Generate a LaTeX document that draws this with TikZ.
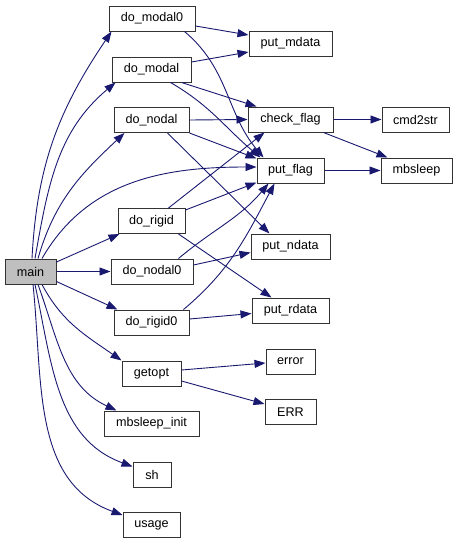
\documentclass[tikz,border=0pt]{standalone}
\usepackage{fontspec}
\setmainfont{Liberation Sans}
\usetikzlibrary{arrows.meta}
\definecolor{edgeblue}{HTML}{191970}
\definecolor{boxline}{HTML}{333333}
\definecolor{mainfill}{HTML}{BFBFBF}
\begin{document}
\begin{tikzpicture}[x=1pt,y=1pt,
  fn/.style={draw=boxline,line width=1pt,fill=white,minimum height=25pt,inner sep=0pt,
    font=\fontsize{12.6}{14}\selectfont,anchor=center},
  edge/.style={draw=edgeblue,line width=0.9pt,-{Triangle[length=11pt,width=8pt]}}]
\useasboundingbox (0,0) rectangle (459,-544);
% column 0
\node[fn,fill=mainfill,minimum width=51pt] (main) at (30.5,-271.5) {main};
% column 1
\node[fn,minimum width=86pt] (dm0) at (152,-18.5) {do\_modal0};
\node[fn,minimum width=79pt] (dm) at (151.5,-69.5) {do\_modal};
\node[fn,minimum width=75pt] (dn) at (151.5,-120) {do\_nodal};
\node[fn,minimum width=67pt] (dr) at (151.5,-221) {do\_rigid};
\node[fn,minimum width=82pt] (dn0) at (152,-271.5) {do\_nodal0};
\node[fn,minimum width=75pt] (dr0) at (151.5,-322.5) {do\_rigid0};
\node[fn,minimum width=59pt] (go) at (151.5,-373.5) {getopt};
\node[fn,minimum width=95pt] (msi) at (151.5,-423.5) {mbsleep\_init};
\node[fn,minimum width=38pt] (sh) at (152,-474.5) {sh};
\node[fn,minimum width=57pt] (us) at (151.5,-525) {usage};
% column 2
\node[fn,minimum width=83pt] (pm) at (290.5,-43.5) {put\_mdata};
\node[fn,minimum width=85pt] (cf) at (290.5,-119.5) {check\_flag};
\node[fn,minimum width=67pt] (pf) at (290.5,-170.5) {put\_flag};
\node[fn,minimum width=79pt] (pn) at (290.5,-246.5) {put\_ndata};
\node[fn,minimum width=77pt] (pr) at (290.5,-310.5) {put\_rdata};
\node[fn,minimum width=49pt] (er) at (290.5,-361.5) {error};
\node[fn,minimum width=51pt] (ERR) at (290.5,-412) {ERR};
% column 3
\node[fn,minimum width=67pt] (c2s) at (415.5,-119.5) {cmd2str};
\node[fn,minimum width=71pt] (ms) at (416.5,-170.5) {mbsleep};
% edges from main
\draw[edge] ([xshift=1.5pt]main.north) to[out=87,in=-124] ([xshift=3pt]dm0.south west);
\draw[edge] ([xshift=4.5pt]main.north) to[out=80,in=-140] ([xshift=4pt]dm.south west);
\draw[edge] ([xshift=7.5pt]main.north) to[out=74,in=-137] ([xshift=11pt]dn.south west);
\draw[edge] ([xshift=11.5pt]main.north) to[out=60,in=180] ([yshift=3.5pt]pf.west);
\draw[edge] ([yshift=9.5pt]main.east) -- ([xshift=2pt]dr.south west);
\draw[edge] (main.east) -- (dn0.west);
\draw[edge] ([yshift=-10pt]main.east) -- ([xshift=4pt]dr0.north west);
\draw[edge] ([xshift=11.5pt]main.south) to[out=-62,in=145] (go.north west);
\draw[edge] ([xshift=7.5pt]main.south) to[out=-70,in=155] ([xshift=13pt]msi.north west);
\draw[edge] ([xshift=4.5pt]main.south) to[out=-78,in=160] ([yshift=8pt]sh.west);
\draw[edge] ([xshift=2.5pt]main.south) to[out=-84,in=160] ([yshift=-3pt]us.north west);
% edges from column 1
\draw[edge] ([yshift=-7.5pt]dm0.east) -- ([yshift=8.5pt]pm.west);
\draw[edge] ([xshift=-11pt]dm0.south east) to[out=-40,in=130] ([xshift=7pt]pf.north west);
\draw[edge] ([yshift=7.5pt]dm.east) -- ([yshift=-8.5pt]pm.west);
\draw[edge] ([xshift=-10pt]dm.south east) -- ([xshift=9pt]cf.north west);
\draw[edge] ([xshift=-21pt]dm.south east) to[out=-30,in=140] ([xshift=4pt]pf.north west);
\draw[edge] (dn.east) -- (cf.west);
\draw[edge] (dn.south east) -- ([yshift=-1pt]pf.north west);
\draw[edge] ([xshift=-22pt]dn.south east) -- ([xshift=19pt]pn.north west);
\draw[edge] ([xshift=-17pt]dr.north east) -- ([xshift=17pt]cf.south west);
\draw[edge] ([yshift=11pt]dr.east) -- ([yshift=1pt]pf.south west);
\draw[edge] ([xshift=-7pt]dr.south east) -- ([xshift=20pt]pr.north west);
\draw[edge] ([xshift=-15pt]dn0.north east) to[out=40,in=-130] ([xshift=12pt]pf.south west);
\draw[edge] ([yshift=6.5pt]dn0.east) -- ([yshift=-6pt]pn.west);
\draw[edge] ([xshift=-6pt]dr0.north east) to[out=40,in=-118] ([xshift=18pt]pf.south west);
\draw[edge] ([yshift=3.5pt]dr0.east) -- ([yshift=-3pt]pr.west);
\draw[edge] ([yshift=3.5pt]go.east) -- ([yshift=-1.5pt]er.west);
\draw[edge] ([yshift=-7.5pt]go.east) -- ([yshift=8pt]ERR.west);
% edges from column 2
\draw[edge] (cf.east) -- (c2s.west);
\draw[edge] ([xshift=-10pt]cf.south east) -- ([xshift=7pt]ms.north west);
\draw[edge] (pf.east) -- (ms.west);
\end{tikzpicture}
\end{document}
